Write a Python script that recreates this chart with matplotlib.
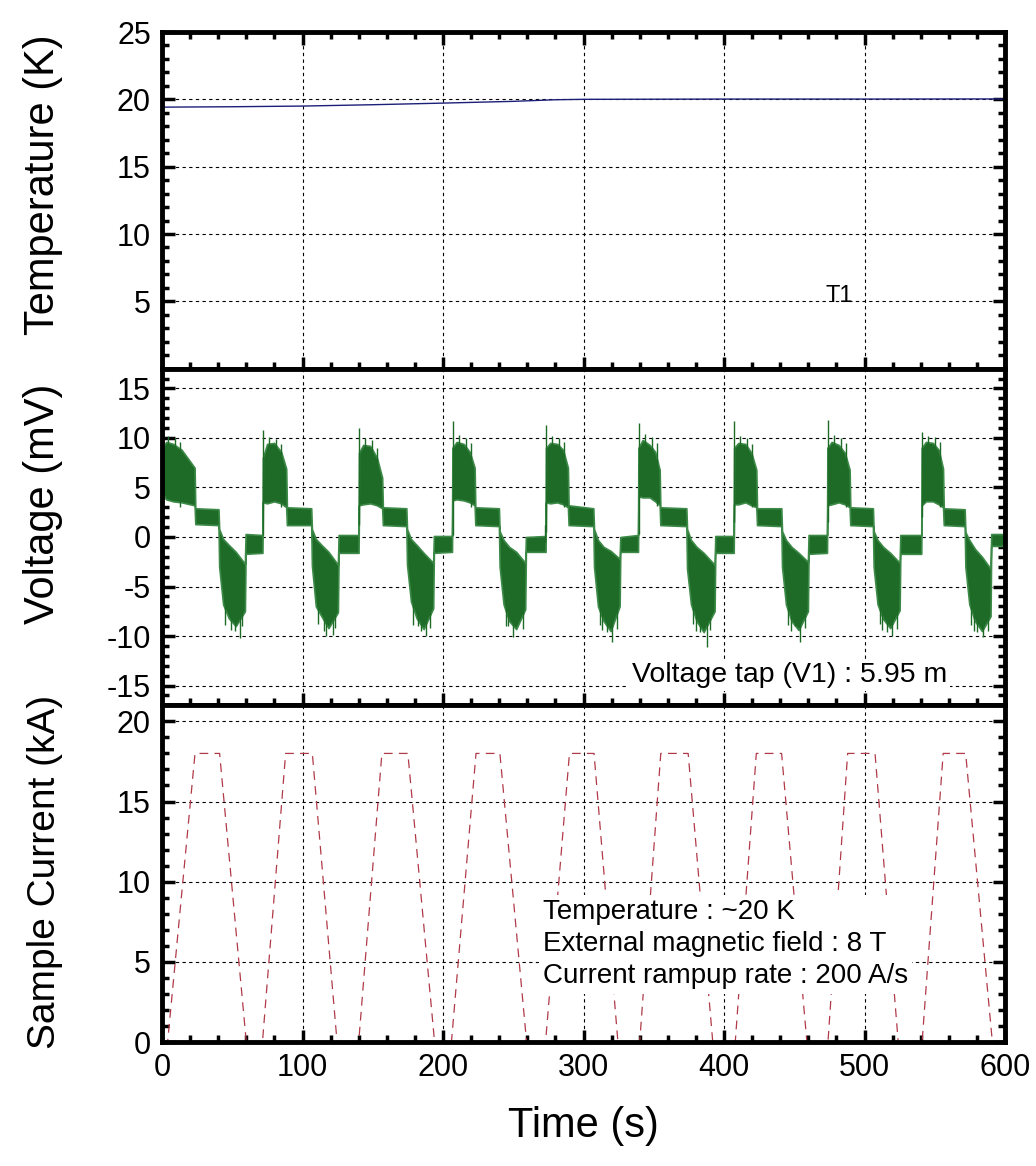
import matplotlib
matplotlib.use('Agg')
import matplotlib.pyplot as plt
from matplotlib.ticker import MultipleLocator

plt.rcParams['font.family'] = ['Liberation Sans', 'DejaVu Sans']
plt.rcParams['axes.unicode_minus'] = False

# temperature sensor T1 (K)
temp_t = [0, 50, 100, 150, 200, 250, 280, 300, 400, 500, 600]
temp_k = [19.42, 19.45, 19.5, 19.6, 19.72, 19.85, 19.97, 20.0, 20.02, 20.02, 20.03]

# voltage tap V1 envelope (mV), one row per ramp cycle
volt_t = [
    0.0, 3.0, 8.0, 14.0, 23.2, 23.7, 40.2, 40.7, 43.5, 47.5, 52.5, 59.0, 59.5, 71.5,
    71.8, 74.8, 79.8, 84.8, 88.4, 88.9, 106.2, 106.7, 109.5, 113.5, 118.5, 125.2, 125.7, 139.9,
    140.2, 143.2, 148.2, 153.0, 156.7, 157.2, 173.9, 174.4, 177.2, 181.2, 186.2, 193.0, 193.5, 206.4,
    206.7, 209.7, 214.7, 219.0, 222.5, 223.0, 239.8, 240.3, 243.1, 247.1, 252.1, 258.5, 259.0, 273.0,
    273.3, 276.3, 281.3, 285.5, 288.9, 289.4, 307.0, 307.5, 310.3, 314.3, 319.3, 325.7, 326.2, 338.8,
    339.1, 342.1, 347.1, 351.0, 354.2, 354.7, 373.2, 373.7, 376.5, 380.5, 385.5, 393.3, 393.8, 406.9,
    407.2, 410.2, 415.2, 419.5, 423.0, 423.5, 440.8, 441.3, 444.1, 448.1, 453.1, 459.7, 460.2, 473.3,
    473.6, 476.6, 481.6, 486.0, 489.4, 489.9, 506.0, 506.5, 509.3, 513.3, 518.3, 525.0, 525.5, 540.4,
    540.7, 543.7, 548.7, 552.8, 555.9, 556.4, 571.3, 571.8, 574.6, 578.6, 583.6, 589.7, 590.2, 600.0,
]
volt_hi = [
    9.0, 9.6, 9.4, 8.8, 7.0, 2.9, 2.8, 0.8, -0.2, -0.8, -1.5, -2.7, 0.3, 0.2,
    8.0, 9.4, 9.5, 8.6, 6.9, 3.0, 2.9, 0.8, -0.2, -0.8, -1.5, -2.8, 0.2, 0.2,
    8.5, 9.3, 9.2, 8.0, 6.0, 3.0, 2.9, 0.8, -0.2, -0.8, -1.6, -2.6, 0.1, 0.1,
    9.0, 9.6, 9.4, 8.6, 7.0, 3.0, 2.9, 0.6, -0.3, -1.0, -1.5, -2.6, 0.0, 0.1,
    9.0, 9.5, 9.4, 8.8, 7.0, 3.2, 2.9, 0.8, -0.3, -1.0, -1.4, -2.2, 0.0, 0.2,
    9.0, 9.8, 9.3, 8.6, 6.8, 3.0, 2.9, 0.8, -0.3, -1.0, -1.6, -2.8, 0.1, 0.1,
    9.0, 9.5, 9.4, 8.5, 6.8, 2.9, 2.9, 0.6, -0.3, -1.0, -1.6, -2.5, 0.2, 0.2,
    9.0, 9.6, 9.3, 8.5, 6.8, 3.0, 2.9, 0.6, -0.3, -1.0, -1.6, -2.6, 0.2, 0.2,
    9.0, 9.6, 9.5, 8.8, 6.9, 2.9, 2.8, 0.5, -0.3, -1.2, -2.0, -3.2, 0.3, 0.3,
]
volt_lo = [
    4.5, 3.8, 3.6, 3.5, 3.2, 1.3, 1.2, -3.0, -6.8, -8.2, -9.0, -7.5, -1.7, -1.6,
    3.5, 3.4, 3.6, 3.4, 3.0, 1.2, 1.2, -2.9, -7.0, -8.0, -9.2, -7.6, -1.6, -1.6,
    3.2, 3.3, 3.4, 3.2, 2.9, 1.2, 1.1, -2.8, -6.5, -8.2, -9.3, -7.2, -1.6, -1.5,
    3.7, 3.8, 3.7, 3.5, 3.2, 1.2, 1.1, -3.0, -6.8, -8.5, -9.3, -7.3, -1.5, -1.5,
    3.5, 3.4, 3.5, 3.3, 3.0, 1.2, 1.1, -3.0, -7.0, -8.5, -9.5, -7.0, -1.5, -1.5,
    4.1, 4.0, 4.0, 3.6, 3.2, 1.2, 1.1, -3.2, -6.8, -8.5, -9.6, -7.5, -1.6, -1.6,
    3.3, 3.3, 3.5, 3.2, 3.0, 1.2, 1.1, -3.0, -6.8, -8.5, -9.4, -7.5, -1.7, -1.6,
    3.2, 3.3, 3.5, 3.3, 3.0, 1.2, 1.1, -3.0, -6.8, -8.3, -9.2, -7.4, -1.7, -1.7,
    3.2, 3.6, 3.6, 3.3, 3.0, 1.2, 1.1, -3.0, -6.8, -8.5, -9.5, -8.0, -0.9, -0.9,
]

# single spikes sticking out of the noise band, one row per cycle
spike_t = [
    1.0, 4.5, 9.5, 13.0, 45.0, 49.0, 52.0, 55.5, 57.0,
    72.0, 76.3, 81.3, 84.8, 111.0, 115.0, 116.5, 121.5, 123.0,
    140.3, 144.7, 149.7, 153.2, 178.7, 182.5, 184.2, 188.2, 190.7,
    206.8, 211.2, 216.2, 219.7, 244.6, 246.5, 250.1, 256.6, 272.6,
    273.5, 277.8, 282.8, 286.3, 311.8, 313.5, 316.5, 320.1, 323.8,
    339.2, 343.6, 348.6, 352.1, 378.0, 380.0, 383.0, 387.7, 390.0,
    407.3, 411.7, 416.7, 420.2, 445.6, 447.6, 450.6, 454.1, 457.6,
    473.8, 478.1, 483.1, 486.6, 510.8, 512.8, 515.8, 519.4, 522.8,
    540.9, 545.2, 550.2, 553.7, 576.1, 578.1, 580.0, 584.6, 588.1,
]
spike_lo = [
    4.0, 5.0, 4.5, 3.0, -8.9, -9.4, -9.5, -10.2, -9.0,
    0.2, 5.0, 4.4, 3.0, -8.8, -9.5, -10.0, -9.9, -9.2,
    1.2, 4.8, 4.5, 3.2, -8.9, -9.0, -9.5, -10.0, -9.2,
    0.2, 5.2, 4.6, 3.0, -9.0, -9.0, -10.1, -9.3, -0.5,
    0.5, 5.0, 4.5, 3.0, -8.9, -9.4, -9.6, -10.6, -9.3,
    0.3, 5.0, 4.4, 3.1, -8.8, -9.5, -9.6, -11.1, -9.4,
    1.5, 5.1, 4.5, 3.0, -8.9, -9.5, -9.0, -10.6, -9.2,
    1.5, 5.0, 4.6, 3.0, -8.8, -9.4, -9.6, -10.0, -9.3,
    2.0, 5.2, 4.5, 3.0, -8.9, -9.5, -9.6, -10.1, -9.5,
]
spike_hi = [
    11.2, 10.2, 10.0, 9.6, -3.0, -4.0, -3.0, -4.0, -4.0,
    10.8, 10.1, 9.9, 9.4, -3.0, -4.0, -4.0, -4.0, -4.0,
    11.0, 10.0, 9.8, 9.0, -3.0, -4.0, -4.0, -5.0, -4.0,
    11.7, 10.3, 10.0, 9.5, -3.0, -4.0, -5.0, -4.0, 1.2,
    11.3, 10.2, 10.0, 9.6, -3.0, -4.0, -4.0, -5.0, -4.0,
    11.5, 10.4, 10.1, 9.5, -3.0, -4.0, -4.0, -5.0, -4.0,
    11.7, 10.2, 10.0, 9.4, -3.0, -4.0, -4.0, -5.0, -4.0,
    11.8, 10.3, 10.0, 9.5, -3.0, -4.0, -4.0, -5.0, -4.0,
    10.6, 10.2, 10.1, 9.6, -3.0, -4.0, -4.0, -5.0, -4.0,
]

# sample current (kA)
cur_t = [0, 4, 23.5, 41, 60, 71.5, 88, 107, 124.6, 140, 156.5, 175, 194, 206, 223.5, 240.5,
         259.5, 273, 290, 307.5, 324.5, 340, 355, 374.5, 392, 408, 423, 441, 459, 474, 488,
         507.5, 524, 541, 556, 572, 591, 600]
cur_ka = [0, 0, 18, 18, 0, 0, 18, 18, 0, 0, 18, 18, 0, 0, 18, 18,
          0, 0, 18, 18, 0, 0, 18, 18, 0, 0, 18, 18, 0, 0, 18,
          18, 0, 0, 18, 18, 0, 0]

fig = plt.figure(figsize=(10.36, 11.66), dpi=100)
left, right = 162 / 1036, 1005 / 1036
bottom, top = 1 - 1042 / 1166, 1 - 32 / 1166
h = (top - bottom) / 3
ax_t = fig.add_axes([left, bottom + 2 * h, right - left, h])
ax_v = fig.add_axes([left, bottom + h, right - left, h], sharex=ax_t)
ax_c = fig.add_axes([left, bottom, right - left, h], sharex=ax_t)

green = '#1d6b27'
ax_t.plot(temp_t, temp_k, color='#1c1f78', lw=1.0)
ax_v.fill_between(volt_t, volt_lo, volt_hi, facecolor=green, edgecolor='#3d8a48', lw=1.2, zorder=2)
ax_v.vlines(spike_t, spike_lo, spike_hi, color=green, lw=1.0, zorder=2)
ax_c.plot(cur_t, cur_ka, color='#b03a48', lw=0.9, dashes=(7, 5))

ax_t.set_ylim(0, 25)
ax_t.set_yticks([5, 10, 15, 20, 25])
ax_v.set_ylim(-17, 17)
ax_v.set_yticks([-15, -10, -5, 0, 5, 10, 15])
ax_c.set_ylim(0, 21)
ax_c.set_yticks([0, 5, 10, 15, 20])
ax_c.set_xlim(0, 600)
ax_c.set_xticks([0, 100, 200, 300, 400, 500, 600])

for ax in (ax_t, ax_v, ax_c):
    ax.xaxis.set_minor_locator(MultipleLocator(20))
    ax.yaxis.set_minor_locator(MultipleLocator(1))
    ax.tick_params(which='both', direction='in', right=True, top=(ax is ax_t),
                   width=2.5, labelsize=22, pad=8)
    ax.tick_params(which='major', length=9)
    ax.tick_params(which='minor', length=5)
    ax.grid(True, which='major', color='k', lw=0.8, linestyle=(0, (3, 3)))
    for s in ax.spines.values():
        s.set_linewidth(3.5)
ax_t.tick_params(labelbottom=False)
ax_v.tick_params(labelbottom=False)

ax_t.set_ylabel('Temperature (K)', fontsize=30)
ax_v.set_ylabel('Voltage (mV)', fontsize=30)
ax_c.set_ylabel('Sample Current (kA)', fontsize=28)
ax_t.yaxis.set_label_coords(-0.118, 0.545)
ax_v.yaxis.set_label_coords(-0.118, 0.60)
ax_c.yaxis.set_label_coords(-0.118, 0.505)
ax_c.set_xlabel('Time (s)', fontsize=30)
ax_c.xaxis.set_label_coords(0.5, -0.19)

ax_t.text(482, 5.4, 'T1', fontsize=17, ha='center', va='center')
ax_v.text(334.5, -14.65, 'Voltage tap (V1) : 5.95 m', fontsize=20.5, ha='left', va='baseline',
          bbox=dict(facecolor='white', edgecolor='none', pad=2), zorder=5)
ax_c.text(271.2, 3.65, 'Temperature : ~20 K\nExternal magnetic field : 8 T\nCurrent rampup rate : 200 A/s',
          fontsize=20, ha='left', va='baseline', linespacing=1.32,
          bbox=dict(facecolor='white', edgecolor='none', pad=3), zorder=5)

fig.savefig('out.png', dpi=100)
